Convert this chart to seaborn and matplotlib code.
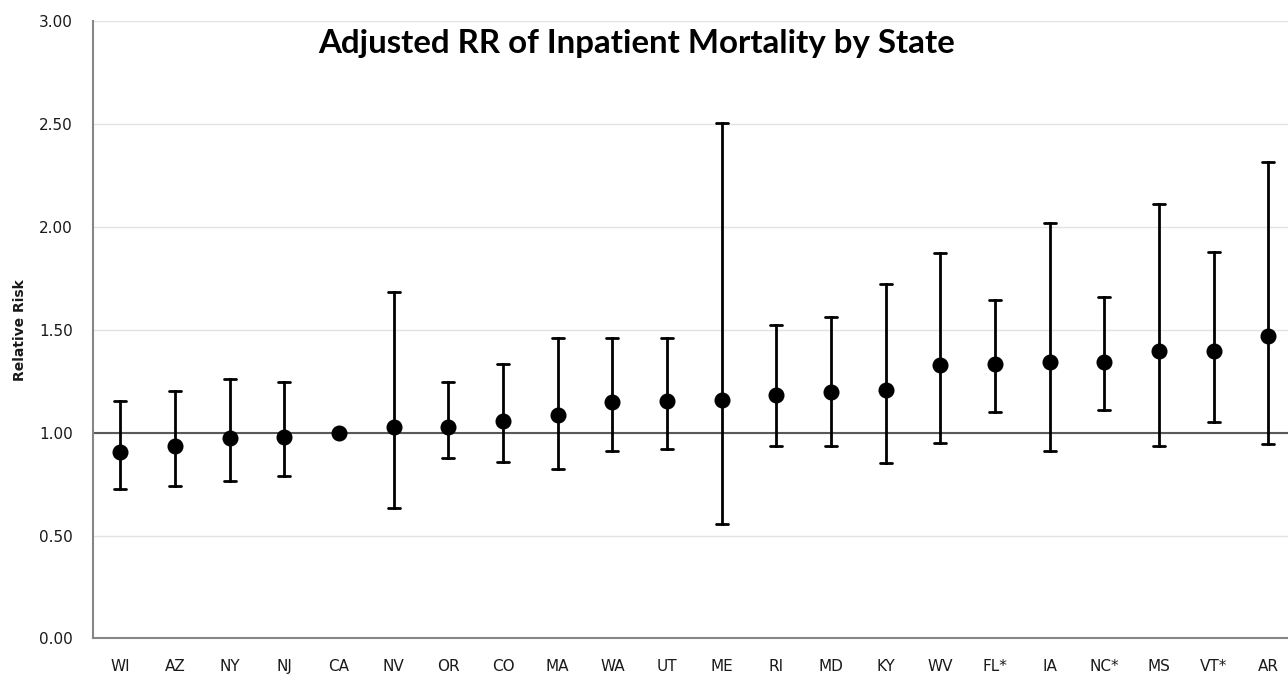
import numpy as np
import pandas as pd
import seaborn as sns
import matplotlib
matplotlib.use("Agg")
import matplotlib.pyplot as plt
from matplotlib.ticker import FixedLocator

states = ["WI", "AZ", "NY", "NJ", "CA", "NV", "OR", "CO", "MA", "WA", "UT",
          "ME", "RI", "MD", "KY", "WV", "FL*", "IA", "NC*", "MS", "VT*", "AR"]
rr = [0.906, 0.935, 0.972, 0.981, 1.000, 1.026, 1.026, 1.055, 1.085, 1.147, 1.153,
      1.161, 1.184, 1.198, 1.206, 1.328, 1.335, 1.343, 1.344, 1.398, 1.398, 1.472]
lower = [0.727, 0.742, 0.766, 0.787, 1.000, 0.636, 0.876, 0.855, 0.825, 0.913, 0.921,
         0.554, 0.937, 0.935, 0.852, 0.950, 1.101, 0.912, 1.111, 0.937, 1.051, 0.943]
upper = [1.156, 1.201, 1.262, 1.245, 1.000, 1.684, 1.245, 1.333, 1.462, 1.462, 1.462,
         2.503, 1.523, 1.564, 1.723, 1.874, 1.646, 2.018, 1.658, 2.112, 1.876, 2.313]
yticks = [0.0, 0.5, 1.0, 1.5, 2.0, 2.5, 3.0]

title = "Adjusted RR of Inpatient Mortality by State"
ylabel = "Relative Risk"

# long-form table: median of (lower, rr, upper) = rr; 100% interval = lower..upper
rows = []
for s, lo, e, hi in zip(states, lower, rr, upper):
    for v in (lo, e, hi):
        rows.append({"state": s, "value": v})
df = pd.DataFrame(rows)

sns.set_style("white")
plt.rcParams["font.family"] = ["DejaVu Sans"]
plt.rcParams["font.sans-serif"] = ["DejaVu Sans"]

fig = plt.figure(figsize=(12.88, 6.75), dpi=100)
ax = fig.add_axes([0.0722, 0.0541, 0.9338, 0.9148])

ax.yaxis.grid(True, color="#e3e3e3", linewidth=1.0)
ax.set_axisbelow(True)
ax.axhline(1.0, color="#595959", linewidth=1.5, zorder=1)

sns.pointplot(data=df, x="state", y="value", order=states,
              estimator="median", errorbar=("pi", 100),
              linestyle="none", color="black", markers="o",
              markersize=9.5, err_kws={"linewidth": 2.0},
              capsize=0.22, ax=ax, zorder=3)

ax.set_ylim(0, 3.0)
ax.set_xlim(-0.5, len(states) - 0.5)
ax.set_yticks(yticks)
ax.set_yticklabels([f"{v:.2f}" for v in yticks])

ax.xaxis.set_minor_locator(FixedLocator(np.arange(-0.5, len(states), 1.0)))
ax.tick_params(axis="x", which="major", length=0, labelsize=11, pad=15)
ax.tick_params(axis="x", which="minor", length=6, width=1.2, color="#868686", direction="out")
ax.tick_params(axis="y", which="major", length=6, width=1.2, color="#868686",
               direction="out", labelsize=11, pad=8.5)
for lab in ax.get_xticklabels() + ax.get_yticklabels():
    lab.set_color("#1a1a1a")
    lab.set_fontfamily("DejaVu Sans")

ax.set_xlabel("")
ax.set_ylabel("")
for side in ["top", "right"]:
    ax.spines[side].set_visible(False)
for side in ["left", "bottom"]:
    ax.spines[side].set_color("#868686")
    ax.spines[side].set_linewidth(1.5)

fig.text(0.0155, 0.511, ylabel, rotation=90, ha="center", va="center",
         fontsize=10, fontweight="bold", family="DejaVu Sans", color="#1a1a1a")
fig.text(0.494, 0.936, title, ha="center", va="center",
         fontsize=23.8, fontweight="bold", family=["Lato", "DejaVu Sans"], color="black")

fig.savefig("out.png", dpi=100)
